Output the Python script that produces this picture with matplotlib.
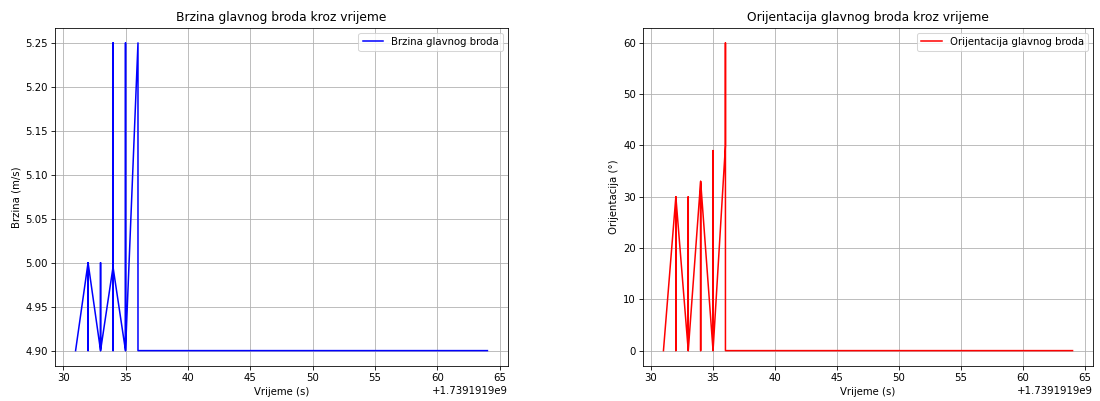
import matplotlib
matplotlib.use("Agg")
import matplotlib.pyplot as plt
import numpy as np

BASE = 1739191900

# time offsets (s) relative to BASE, in recorded order
speed_t = [31, 32, 32, 32, 33, 33, 33, 34, 34, 34, 34, 35, 35, 35, 36, 36,
           37, 38, 39, 40, 41, 42, 43, 44, 45, 46, 47, 48, 49, 50, 51, 52,
           53, 54, 55, 56, 57, 58, 59, 60, 61, 62, 63, 64]
speed_v = [4.90, 5.00, 4.90, 5.00, 4.90, 5.00, 4.90, 4.995, 5.25, 4.90, 4.995,
           4.90, 5.25, 4.90, 5.25, 4.90,
           4.90, 4.90, 4.90, 4.90, 4.90, 4.90, 4.90, 4.90, 4.90, 4.90, 4.90,
           4.90, 4.90, 4.90, 4.90, 4.90, 4.90, 4.90, 4.90, 4.90, 4.90, 4.90,
           4.90, 4.90, 4.90, 4.90, 4.90, 4.90]

orient_t = [31, 32, 32, 32, 33, 33, 33, 34, 34, 34, 35, 35, 35, 36, 36, 36,
            37, 38, 39, 40, 41, 42, 43, 44, 45, 46, 47, 48, 49, 50, 51, 52,
            53, 54, 55, 56, 57, 58, 59, 60, 61, 62, 63, 64]
orient_v = [0, 30, 0, 30, 0, 30, 0, 33, 0, 33, 0, 39, 0, 40, 60, 0,
            0, 0, 0, 0, 0, 0, 0, 0, 0, 0, 0, 0, 0, 0, 0, 0,
            0, 0, 0, 0, 0, 0, 0, 0, 0, 0, 0, 0]

st = np.array(speed_t, dtype=float) + BASE
ot = np.array(orient_t, dtype=float) + BASE

dpi = 1100 / 15
fig = plt.figure(figsize=(15, 401 / dpi), dpi=dpi)
W, H = 1100, 401
ax1 = fig.add_axes([55 / W, 1 - 366 / H, (508 - 55) / W, (366 - 27.5) / H])
ax2 = fig.add_axes([643 / W, 1 - 366 / H, (1093 - 643) / W, (366 - 27.5) / H])

ax1.plot(st, speed_v, color="blue", label="Brzina glavnog broda")
ax1.set_title("Brzina glavnog broda kroz vrijeme")
ax1.set_xlabel("Vrijeme (s)")
ax1.set_ylabel("Brzina (m/s)")
ax1.legend(loc="upper right")
ax1.grid(True)

ax2.plot(ot, orient_v, color="red", label="Orijentacija glavnog broda")
ax2.set_title("Orijentacija glavnog broda kroz vrijeme")
ax2.set_xlabel("Vrijeme (s)")
ax2.set_ylabel("Orijentacija (°)")
ax2.legend(loc="upper right")
ax2.grid(True)

fig.savefig("out.png", dpi=dpi)
